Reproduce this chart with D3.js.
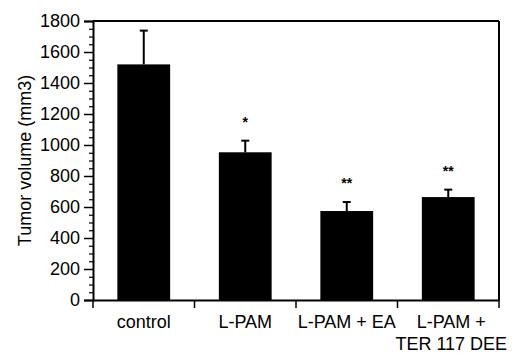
<!DOCTYPE html>
<html>
<head>
<meta charset="utf-8">
<script src="https://cdn.jsdelivr.net/npm/d3@7"></script>
<style>
  body { margin: 0; background: #fff; }
  svg text { font-family: "Liberation Sans", Arial, sans-serif; fill: #000; }
</style>
</head>
<body>
<svg width="513" height="354"></svg>
<script>
// datos
const grupos = ["control", "L-PAM", "L-PAM + EA", "L-PAM + TER 117 DEE"];
const etiquetas = [["control"], ["L-PAM"], ["L-PAM + EA"], ["L-PAM +", "TER 117 DEE"]];
const volumen = [1520, 953, 574, 664];
const error = [218, 75, 58, 48];
const signif = ["", "*", "**", "**"];
const ticksY = [0, 200, 400, 600, 800, 1000, 1200, 1400, 1600, 1800];

const svg = d3.select("svg");
const margen = { top: 21, right: 14, bottom: 54, left: 93 };
const ancho = 513 - margen.left - margen.right;
const alto = 354 - margen.top - margen.bottom;

const g = svg.append("g").attr("transform", `translate(${margen.left},${margen.top})`);

const x = d3.scaleBand().domain(grupos).range([0, ancho]).paddingInner(0.48).paddingOuter(0.24);
const y = d3.scaleLinear().domain([0, 1800]).range([alto, 0]);

// barras
g.selectAll(".barra")
  .data(grupos)
  .enter()
  .append("rect")
  .attr("class", "barra")
  .attr("x", d => x(d))
  .attr("y", (d, i) => y(volumen[i]))
  .attr("width", x.bandwidth())
  .attr("height", (d, i) => y(0) - y(volumen[i]))
  .attr("fill", "#000");

// barras de error (solo hacia arriba)
const err = g.selectAll(".error").data(grupos).enter().append("g").attr("class", "error");
err.append("line")
  .attr("x1", d => x(d) + x.bandwidth() / 2)
  .attr("x2", d => x(d) + x.bandwidth() / 2)
  .attr("y1", (d, i) => y(volumen[i]))
  .attr("y2", (d, i) => y(volumen[i] + error[i]))
  .attr("stroke", "#000").attr("stroke-width", 2);
err.append("line")
  .attr("x1", d => x(d) + x.bandwidth() / 2 - 4)
  .attr("x2", d => x(d) + x.bandwidth() / 2 + 4)
  .attr("y1", (d, i) => y(volumen[i] + error[i]))
  .attr("y2", (d, i) => y(volumen[i] + error[i]))
  .attr("stroke", "#000").attr("stroke-width", 2);

// asteriscos
g.selectAll(".sig")
  .data(grupos)
  .enter()
  .append("text")
  .attr("class", "sig")
  .attr("x", d => x(d) + x.bandwidth() / 2)
  .attr("y", (d, i) => y(volumen[i] + error[i]) - 14)
  .attr("text-anchor", "middle")
  .style("font-size", "14px")
  .style("font-weight", "bold")
  .text((d, i) => signif[i]);

// eje Y con ticks menores
const ejeY = g.append("g")
  .call(d3.axisLeft(y).tickValues(ticksY).tickSize(9).tickPadding(4).tickFormat(d3.format("d")));
ejeY.select(".domain").attr("stroke-width", 2);
ejeY.selectAll(".tick line").attr("stroke-width", 1.5);
ejeY.selectAll("text").style("font-size", "18px");

g.append("g")
  .call(d3.axisLeft(y).tickValues(d3.range(0, 1801, 50).filter(v => v % 200 !== 0)).tickSize(4).tickFormat(""))
  .call(a => a.select(".domain").remove())
  .selectAll(".tick line").attr("stroke-width", 1.2);

// eje X
const ejeX = g.append("g")
  .attr("transform", `translate(0,${alto})`)
  .call(d3.axisBottom(x).tickSize(0).tickFormat(""));
ejeX.select(".domain").attr("stroke-width", 2);

const bordes = [0].concat(grupos.map(d => x(d) + x.bandwidth() + x.step() * 0.24));
g.selectAll(".tickx")
  .data(bordes)
  .enter()
  .append("line")
  .attr("x1", d => d).attr("x2", d => d)
  .attr("y1", alto).attr("y2", alto + 8)
  .attr("stroke", "#000").attr("stroke-width", 1.5);

// etiquetas de categoria
g.selectAll(".etq")
  .data(grupos)
  .enter()
  .append("text")
  .attr("class", "etq")
  .attr("x", d => x(d) + x.bandwidth() / 2 + (d === grupos[3] ? 3 : 0))
  .attr("y", alto + 28)
  .attr("text-anchor", "middle")
  .style("font-size", "18px")
  .selectAll("tspan")
  .data((d, i) => etiquetas[i])
  .enter()
  .append("tspan")
  .attr("x", function () { return this.parentNode.getAttribute("x"); })
  .attr("dy", (d, i) => i === 0 ? 0 : 22)
  .text(d => d);

// marco superior y derecho
g.append("line").attr("x1", 0).attr("x2", ancho).attr("y1", 0).attr("y2", 0)
  .attr("stroke", "#000").attr("stroke-width", 2);
g.append("line").attr("x1", ancho).attr("x2", ancho).attr("y1", 0).attr("y2", alto)
  .attr("stroke", "#000").attr("stroke-width", 2);

// titulo eje Y
svg.append("text")
  .attr("transform", `translate(31,${margen.top + alto / 2}) rotate(-90)`)
  .attr("text-anchor", "middle")
  .style("font-size", "18px")
  .text("Tumor volume (mm3)");
</script>
</body>
</html>
